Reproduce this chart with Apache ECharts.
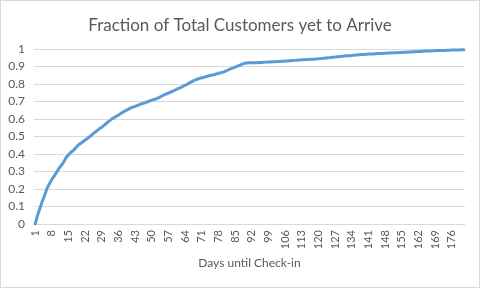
<!DOCTYPE html>
<html>
<head>
<meta charset="utf-8">
<script src="https://cdn.jsdelivr.net/npm/echarts@6/dist/echarts.min.js"></script>
<style>
html,body{margin:0;padding:0;background:#fff;}
#wrap{width:480px;height:288px;box-sizing:border-box;border:1px solid #d9d9d9;}
#chart{width:478px;height:286px;}
</style>
</head>
<body>
<div id="wrap"><div id="chart"></div></div>
<script>
const titleText = "Fraction of Total Customers yet to Arrive";
const xAxisName = "Days until Check-in";
const days = [];
for (let d = 1; d <= 181; d++) days.push(String(d));
const fractionYetToArrive = [
  0, 0.05, 0.09, 0.13, 0.165, 0.205, 0.23, 0.255, 0.275, 0.296,
  0.318, 0.335, 0.355, 0.38, 0.395, 0.41, 0.42, 0.435, 0.45, 0.46,
  0.47, 0.48, 0.49, 0.5, 0.512, 0.523, 0.533, 0.545, 0.553, 0.565,
  0.577, 0.588, 0.598, 0.607, 0.615, 0.622, 0.632, 0.64, 0.648, 0.655,
  0.662, 0.668, 0.672, 0.678, 0.684, 0.688, 0.693, 0.697, 0.703, 0.708,
  0.712, 0.716, 0.722, 0.73, 0.737, 0.743, 0.748, 0.755, 0.76, 0.767,
  0.774, 0.779, 0.786, 0.793, 0.8, 0.808, 0.815, 0.822, 0.827, 0.832,
  0.836, 0.839, 0.843, 0.847, 0.85, 0.853, 0.857, 0.861, 0.864, 0.868,
  0.874, 0.88, 0.886, 0.891, 0.896, 0.902, 0.908, 0.914, 0.919, 0.92,
  0.921, 0.921, 0.922, 0.922, 0.923, 0.923, 0.924, 0.925, 0.926, 0.926,
  0.927, 0.927, 0.928, 0.929, 0.93, 0.931, 0.932, 0.933, 0.934, 0.935,
  0.936, 0.937, 0.938, 0.939, 0.94, 0.94, 0.941, 0.942, 0.943, 0.944,
  0.945, 0.947, 0.948, 0.95, 0.951, 0.953, 0.954, 0.956, 0.957, 0.958,
  0.96, 0.961, 0.962, 0.963, 0.965, 0.966, 0.967, 0.968, 0.969, 0.97,
  0.971, 0.971, 0.972, 0.973, 0.974, 0.975, 0.975, 0.976, 0.977, 0.977,
  0.978, 0.978, 0.979, 0.98, 0.98, 0.981, 0.982, 0.983, 0.983, 0.984,
  0.985, 0.986, 0.986, 0.987, 0.988, 0.988, 0.989, 0.99, 0.99, 0.991,
  0.991, 0.992, 0.992, 0.993, 0.993, 0.994, 0.994, 0.995, 0.995, 0.996,
  0.996
];
const yMin = 0, yMax = 1, yStep = 0.1;

const font = 'Lato, "Open Sans", sans-serif';
const chart = echarts.init(document.getElementById('chart'), null, {renderer: 'canvas'});
chart.setOption({
  animation: false,
  title: {
    text: titleText,
    left: 'center',
    top: 11,
    textStyle: {fontFamily: font, fontSize: 17, fontWeight: 'normal', color: '#595959'}
  },
  grid: {left: 33, right: 14, top: 48, bottom: 63, containLabel: false},
  xAxis: {
    type: 'category',
    data: days,
    boundaryGap: true,
    name: xAxisName,
    nameLocation: 'middle',
    nameGap: 32,
    nameTextStyle: {fontFamily: font, fontSize: 12, color: '#595959'},
    axisLine: {show: true, lineStyle: {color: '#d9d9d9', width: 1}},
    axisTick: {show: false},
    axisLabel: {interval: 6, rotate: 90, fontFamily: font, fontSize: 11, color: '#595959', margin: 6}
  },
  yAxis: {
    type: 'value',
    min: yMin, max: yMax, interval: yStep,
    axisLine: {show: false},
    axisTick: {show: false},
    axisLabel: {fontFamily: font, fontSize: 12, color: '#595959', margin: 9,
      formatter: v => String(Math.round(v * 10) / 10)},
    splitLine: {lineStyle: {color: '#d9d9d9', width: 1}}
  },
  series: [{
    type: 'line',
    data: fractionYetToArrive,
    showSymbol: false,
    symbol: 'none',
    lineStyle: {color: '#5B9BD5', width: 3, cap: 'round', join: 'round'},
    itemStyle: {color: '#5B9BD5'}
  }]
});
</script>
</body>
</html>
